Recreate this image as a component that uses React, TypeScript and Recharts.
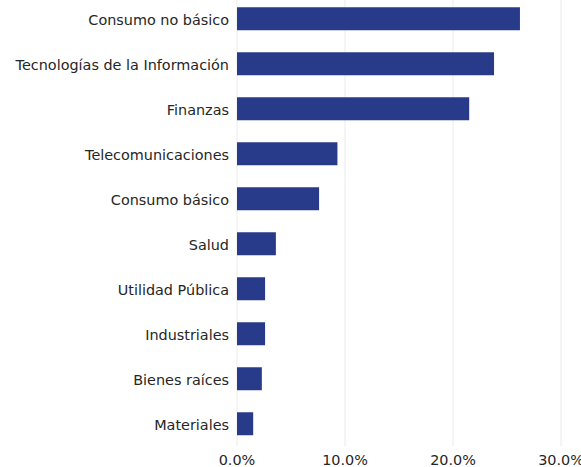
import { BarChart, Bar, XAxis, YAxis, CartesianGrid } from 'recharts';

const sectors = [
  'Consumo no básico',
  'Tecnologías de la Información',
  'Finanzas',
  'Telecomunicaciones',
  'Consumo básico',
  'Salud',
  'Utilidad Pública',
  'Industriales',
  'Bienes raíces',
  'Materiales'
];

const weights = [26.2, 23.8, 21.5, 9.3, 7.6, 3.6, 2.6, 2.6, 2.3, 1.5];

const xTicks = [0, 10, 20, 30];

const data = sectors.map((name, i) => ({ name, value: weights[i] }));

const font = { fontFamily: 'DejaVu Sans', fontSize: 14.4, fill: '#262626' };

export default function App() {
  return (
    <div style={{ position: 'absolute', left: 0, top: -4 }}>
      <BarChart
        width={581}
        height={471}
        data={data}
        layout="vertical"
        barCategoryGap="25%"
        margin={{ top: 0, right: 20, left: 0, bottom: 0 }}>
        <CartesianGrid horizontal={false} stroke="#ebebeb" />
        <XAxis
          type="number"
          domain={[0, 30]}
          ticks={xTicks}
          tickFormatter={(v: number) => `${v.toFixed(1)}%`}
          axisLine={false}
          tickLine={false}
          tickSize={6}
          tickMargin={3}
          height={21}
          tick={font}
          interval={0}
        />
        <YAxis
          type="category"
          dataKey="name"
          width={237}
          axisLine={false}
          tickLine={false}
          tick={{ ...font, dy: 1.5 }}
          interval={0}
        />
        <Bar dataKey="value" fill="#283b8b" isAnimationActive={false} />
      </BarChart>
    </div>
  );
}
